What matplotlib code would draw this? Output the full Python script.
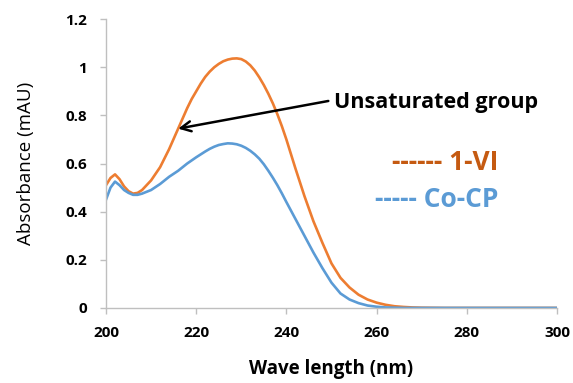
import matplotlib
matplotlib.use("Agg")
import matplotlib.pyplot as plt
from matplotlib.ticker import FuncFormatter

# wavelength (nm) and absorbance (mAU)
wave = [200, 201, 202, 203, 204, 205, 206, 207, 208, 210, 212, 214, 216,
        218, 219, 220, 221, 222, 223, 224, 225, 226, 227, 228, 229, 230,
        231, 232, 233, 234, 235, 236, 237, 238, 239, 240,
        242, 244, 246, 248, 250, 252, 254, 256, 258, 260, 262, 264, 266,
        268, 270, 275, 280, 290, 300]

vi_1 = [0.51, 0.54, 0.555, 0.535, 0.505, 0.485, 0.475, 0.478, 0.49, 0.53,
        0.585, 0.66, 0.745,
        0.83, 0.868, 0.90, 0.932, 0.96, 0.982, 1.00, 1.014, 1.025, 1.032,
        1.036, 1.037, 1.034, 1.024, 1.008, 0.986, 0.958, 0.926, 0.89, 0.85,
        0.805, 0.755, 0.70,
        0.58, 0.465, 0.36, 0.27, 0.185, 0.125, 0.085, 0.055, 0.035, 0.022,
        0.013, 0.007, 0.004, 0.002, 0.001, 0.0, 0.0, 0.0, 0.0]

co_cp = [0.45, 0.50, 0.525, 0.51, 0.49, 0.478, 0.47, 0.47, 0.475, 0.49,
         0.515, 0.545, 0.57,
         0.60, 0.613, 0.626, 0.638, 0.65, 0.661, 0.67, 0.677, 0.681, 0.684,
         0.683, 0.68, 0.674, 0.665, 0.653, 0.638, 0.62, 0.597, 0.57, 0.541,
         0.51, 0.476, 0.44,
         0.37, 0.30, 0.23, 0.165, 0.105, 0.06, 0.035, 0.02, 0.01, 0.005,
         0.002, 0.001, 0.0, 0.0, 0.0, 0.0, 0.0, 0.0, 0.0]

x_ticks = [200, 220, 240, 260, 280, 300]
y_ticks = [0, 0.2, 0.4, 0.6, 0.8, 1.0, 1.2]

orange = '#ED7D31'
blue = '#5B9BD5'
dark_orange = '#C55A11'

plt.rcParams['font.family'] = ['Open Sans', 'DejaVu Sans']

fig = plt.figure(figsize=(5.73, 3.83), dpi=100)
ax = fig.add_axes([0.185, 0.196, 0.787, 0.754])

ax.plot(wave, vi_1, color=orange, lw=1.9)
ax.plot(wave, co_cp, color=blue, lw=1.9)

ax.set_xlim(200, 300)
ax.set_ylim(0, 1.2)
ax.set_xticks(x_ticks)
ax.set_yticks(y_ticks)
ax.yaxis.set_major_formatter(FuncFormatter(lambda v, p: '%g' % v))

for s in ['top', 'right']:
    ax.spines[s].set_visible(False)
for s in ['left', 'bottom']:
    ax.spines[s].set_color('#BFBFBF')
    ax.spines[s].set_linewidth(1.0)
ax.tick_params(colors='#BFBFBF', length=4.5, width=1.0, labelcolor='black',
               labelsize=11)
for lab in ax.get_xticklabels() + ax.get_yticklabels():
    lab.set_fontweight('bold')
ax.tick_params(axis='x', pad=8.5)
ax.tick_params(axis='y', pad=9)

ax.set_xlabel('Wave length (nm)', fontsize=13.5, fontweight='bold', labelpad=14)
ax.set_ylabel('Absorbance (mAU)', fontsize=13.5, fontweight='medium', labelpad=22)

# arrow and its note
ax.annotate('', xy=(216, 0.745), xytext=(249.3, 0.86),
            arrowprops=dict(arrowstyle='->', lw=1.8, color='black',
                            mutation_scale=18, shrinkA=0, shrinkB=0))
ax.text(250.5, 0.855, 'Unsaturated group', fontsize=15.5, fontweight='bold',
        ha='left', va='center')

# legend-like labels
ax.text(287, 0.605, '------ 1-VI', fontsize=19, fontweight='bold',
        color=dark_orange, ha='right', va='center')
ax.text(287, 0.452, '----- Co-CP', fontsize=19, fontweight='bold',
        color=blue, ha='right', va='center')

fig.savefig('out.png', dpi=100)
